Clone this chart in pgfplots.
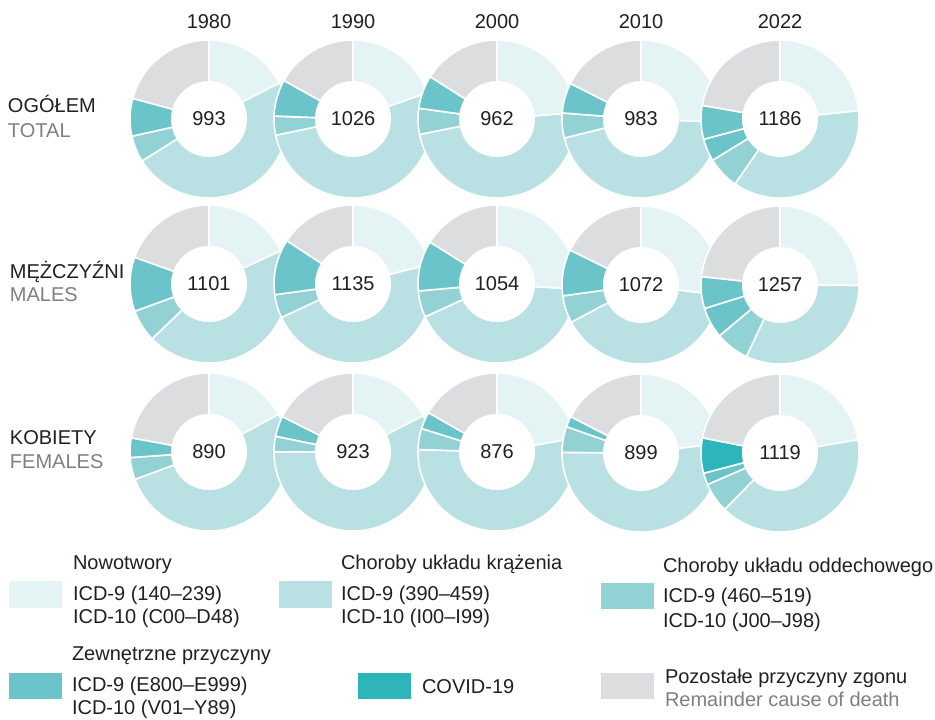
\documentclass[border=0pt]{standalone}
\usepackage{pgfplots}
\pgfplotsset{compat=1.18}
\usepackage{fontspec}
\setmainfont{Liberation Sans}

\definecolor{cNow}{HTML}{E4F3F4}
\definecolor{cKrz}{HTML}{B9E0E3}
\definecolor{cOdd}{HTML}{93D2D4}
\definecolor{cZew}{HTML}{6BC4C9}
\definecolor{cCov}{HTML}{2EB5BB}
\definecolor{cPoz}{HTML}{DCDDDF}
\definecolor{txt}{HTML}{231F20}
\definecolor{txtgray}{HTML}{7F7F7F}

\tikzset{lab/.style={font=\fontsize{10}{12}\selectfont, text=txt, inner sep=0pt, outer sep=0pt}}

% one ring sector: centre x, centre y, from, to (degrees clockwise from north), colour
\newcommand\seg[5]{%
  \addplot[fill=#5, draw=white, line width=0.8pt, line join=round,
    domain=#3:#4, samples=61, variable=\t]
    ({#1+79*sin(\t)},{#2-79*cos(\t)}) -- (axis cs:#1,#2) -- cycle;
}
\def\getshares#1,#2,#3,#4,#5,#6\relax{%
  \def\sA{#1}\def\sB{#2}\def\sC{#3}\def\sD{#4}\def\sE{#5}\def\sF{#6}}
% \donut{cx}{cy}{rate}{nowotwory,krazenie,oddechowy,zewnetrzne,covid,pozostale}{colour of covid}
\newcommand\donut[5]{%
  \getshares#4\relax
  \pgfmathsetmacro\k{360/(\sA+\sB+\sC+\sD+\sE+\sF)}%
  \pgfmathsetmacro\aA{\k*\sA}%
  \pgfmathsetmacro\aB{\aA+\k*\sB}%
  \pgfmathsetmacro\aC{\aB+\k*\sC}%
  \pgfmathsetmacro\aD{\aC+\k*\sD}%
  \pgfmathsetmacro\aE{\aD+\k*\sE}%
  \edef\next{%
    \noexpand\seg{#1}{#2}{0}{\aA}{cNow}%
    \noexpand\seg{#1}{#2}{\aA}{\aB}{cKrz}%
    \noexpand\seg{#1}{#2}{\aB}{\aC}{cOdd}%
    \noexpand\seg{#1}{#2}{\aC}{\aD}{cZew}%
    \ifdim\sE pt>0pt \noexpand\seg{#1}{#2}{\aD}{\aE}{#5}\fi
    \noexpand\seg{#1}{#2}{\aE}{360}{cPoz}%
  }\next
  \fill[white] (axis cs:#1,#2) circle[radius=19pt];
  \node[lab] at (axis cs:#1,#2) {#3};
}

\begin{document}
\begin{tikzpicture}
\begin{axis}[
  x=0.5pt, y=0.5pt, y dir=reverse,
  xmin=0, xmax=935, ymin=0, ymax=719,
  hide axis, clip=false, no markers,
]
\path (axis cs:0,0) rectangle (axis cs:935,719);

% years
\node[lab, anchor=base] at (axis cs:209,28) {1980};
\node[lab, anchor=base] at (axis cs:353,28) {1990};
\node[lab, anchor=base] at (axis cs:497,28) {2000};
\node[lab, anchor=base] at (axis cs:641,28) {2010};
\node[lab, anchor=base] at (axis cs:780,28) {2022};

% row labels
\node[lab, anchor=base west] at (axis cs:8,112) {OGÓŁEM};
\node[lab, anchor=base west, text=txtgray] at (axis cs:8,137) {TOTAL};
\node[lab, anchor=base west] at (axis cs:10,278) {MĘŻCZYŹNI};
\node[lab, anchor=base west, text=txtgray] at (axis cs:10,301) {MALES};
\node[lab, anchor=base west] at (axis cs:10,444) {KOBIETY};
\node[lab, anchor=base west, text=txtgray] at (axis cs:10,468) {FEMALES};

% ogółem
\donut{209}{119}{993}{17.5,48.6,5.4,7.7,0,20.8}{cCov}
\donut{353}{119}{1026}{19.6,52.1,3.9,7.5,0,16.9}{cCov}
\donut{497}{119}{962}{23.7,48.1,5.3,6.8,0,16.0}{cCov}
\donut{641}{119}{983}{25.7,45.5,5.1,6.2,0,17.6}{cCov}
\donut{780}{119}{1186}{23.3,36.3,6.6,4.6,6.9,22.2}{cZew}
% mężczyźni
\donut{209}{284}{1101}{18.1,44.7,6.6,11.1,0,19.5}{cCov}
\donut{353}{284}{1135}{21.0,47.1,4.8,11.4,0,15.8}{cCov}
\donut{497}{284}{1054}{26.1,42.1,5.4,10.3,0,16.1}{cCov}
\donut{641}{285}{1072}{27.1,40.1,5.6,9.5,0,17.7}{cCov}
\donut{780}{285}{1257}{25.1,31.9,6.9,6.3,6.5,23.3}{cZew}
% kobiety
\donut{209}{452}{890}{17.1,52.2,4.5,4.0,0,22.1}{cCov}
\donut{353}{452}{923}{17.4,57.6,3.2,4.2,0,17.6}{cCov}
\donut{497}{452}{876}{22.2,53.3,4.3,3.5,0,16.7}{cCov}
\donut{641}{453}{899}{23.1,52.1,5.3,2.2,0,17.4}{cCov}
\donut{780}{453}{1119}{22.3,40.0,6.1,2.4,7.2,21.9}{cCov}

% legend
\fill[cNow] (axis cs:9,581) rectangle (axis cs:62,608);
\node[lab, anchor=base west] at (axis cs:73,569) {Nowotwory};
\node[lab, anchor=base west] at (axis cs:73,600) {ICD-9 (140–239)};
\node[lab, anchor=base west] at (axis cs:73,623) {ICD-10 (C00–D48)};

\fill[cKrz] (axis cs:279,581) rectangle (axis cs:332,608);
\node[lab, anchor=base west] at (axis cs:341,569) {Choroby układu krążenia};
\node[lab, anchor=base west] at (axis cs:341,600) {ICD-9 (390–459)};
\node[lab, anchor=base west] at (axis cs:341,623) {ICD-10 (I00–I99)};

\fill[cOdd] (axis cs:601,583) rectangle (axis cs:654,609);
\node[lab, anchor=base west] at (axis cs:663,572) {Choroby układu oddechowego};
\node[lab, anchor=base west] at (axis cs:663,602) {ICD-9 (460–519)};
\node[lab, anchor=base west] at (axis cs:663,627) {ICD-10 (J00–J98)};

\fill[cZew] (axis cs:9,673) rectangle (axis cs:62,699);
\node[lab, anchor=base west] at (axis cs:72,660) {Zewnętrzne przyczyny};
\node[lab, anchor=base west] at (axis cs:72,691) {ICD-9 (E800–E999)};
\node[lab, anchor=base west] at (axis cs:72,714.5) {ICD-10 (V01–Y89)};

\fill[cCov] (axis cs:358,673) rectangle (axis cs:411,699);
\node[lab, anchor=base west] at (axis cs:422,693) {COVID-19};

\fill[cPoz] (axis cs:601,673) rectangle (axis cs:654,699);
\node[lab, anchor=base west] at (axis cs:665,683) {Pozostałe przyczyny zgonu};
\node[lab, anchor=base west, text=txtgray] at (axis cs:665,706) {Remainder cause of death};
\end{axis}
\end{tikzpicture}
\end{document}
